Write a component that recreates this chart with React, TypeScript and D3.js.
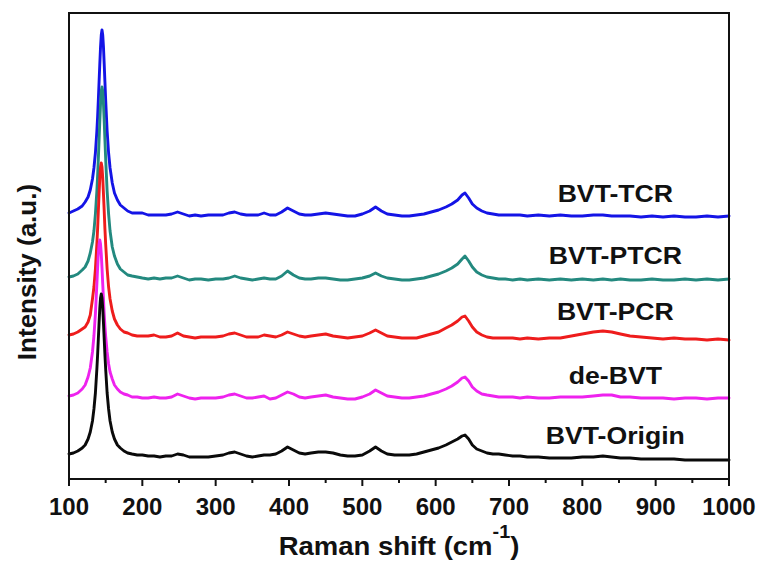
import React from "react";
import * as d3 from "d3";

// Raman shift axis (cm-1), shared by all five spectra
const ramanShift = [
  100, 106, 112, 118, 122, 126, 129, 132, 134, 136,
  138, 139, 140, 141, 142, 143, 144, 145, 146, 147,
  148, 149, 150, 152, 154, 156, 159, 162, 166, 170,
  175, 180, 186, 193, 200, 208, 216, 224, 232, 240,
  248, 256, 264, 272, 280, 290, 300, 310, 318, 326,
  334, 342, 350, 358, 366, 374, 382, 390, 398, 406,
  414, 422, 430, 440, 450, 460, 470, 480, 490, 500,
  510, 518, 526, 534, 544, 554, 564, 574, 584, 594,
  604, 614, 622, 630, 636, 640, 645, 650, 656, 663,
  670, 678, 686, 695, 705, 715, 725, 740, 755, 770,
  785, 800, 815, 828, 840, 852, 865, 880, 895, 910,
  925, 940, 955, 970, 985, 1000,
];

// Stacked intensities (a.u., offset per sample)
const bvtTCR = [
  266, 268, 270, 273, 277, 282, 289, 300, 311, 326,
  348, 362, 379, 397, 415, 432, 444, 449, 444, 432,
  415, 397, 379, 348, 326, 311, 296, 286, 279, 274,
  271, 268, 266, 266, 266, 264, 264, 264, 264, 265,
  267, 265, 263, 264, 263, 264, 264, 264, 266, 267,
  265, 264, 264, 264, 266, 264, 264, 267, 271, 268,
  265, 264, 264, 265, 266, 265, 264, 263, 263, 265,
  268, 272, 268, 265, 264, 263, 263, 264, 265, 267,
  269, 272, 275, 279, 284, 286, 281, 275, 271, 268,
  266, 265, 264, 264, 264, 264, 263, 264, 263, 264,
  263, 263, 264, 264, 263, 263, 263, 262, 263, 262,
  263, 262, 262, 263, 262, 263,
];

const bvtPTCR = [
  202, 203, 205, 209, 212, 218, 226, 237, 248, 265,
  288, 303, 320, 339, 358, 375, 388, 392, 388, 375,
  358, 339, 320, 288, 265, 248, 232, 223, 215, 210,
  207, 204, 203, 202, 201, 200, 201, 200, 201, 201,
  203, 201, 199, 200, 200, 199, 200, 200, 201, 203,
  201, 200, 199, 200, 201, 200, 200, 203, 208, 204,
  201, 200, 200, 201, 201, 200, 199, 199, 200, 201,
  203, 206, 203, 201, 200, 199, 199, 200, 201, 203,
  205, 208, 211, 215, 220, 223, 218, 212, 207, 204,
  202, 201, 200, 200, 199, 200, 199, 200, 199, 200,
  199, 200, 199, 200, 199, 200, 199, 199, 200, 199,
  199, 200, 199, 200, 199, 200,
];

const bvtPCR = [
  144, 145, 147, 150, 152, 157, 164, 180, 192, 210,
  235, 250, 268, 285, 301, 312, 316, 312, 301, 285,
  268, 250, 235, 210, 192, 180, 168, 160, 154, 150,
  147, 146, 144, 143, 143, 143, 144, 142, 142, 143,
  146, 143, 142, 141, 142, 142, 142, 143, 145, 146,
  144, 142, 142, 142, 144, 143, 142, 144, 147, 145,
  143, 142, 143, 144, 145, 143, 142, 141, 142, 143,
  146, 149, 146, 143, 142, 141, 141, 141, 143, 145,
  147, 151, 154, 158, 162, 163, 158, 152, 147, 144,
  142, 141, 141, 141, 141, 140, 141, 140, 141, 141,
  143, 145, 147, 148, 147, 145, 143, 142, 141, 140,
  141, 140, 140, 139, 140, 139,
];

const deBVT = [
  83, 84, 86, 90, 94, 102, 111, 127, 143, 165,
  195, 211, 225, 235, 239, 235, 225, 211, 195, 180,
  165, 153, 143, 127, 115, 107, 100, 94, 90, 87,
  85, 84, 82, 82, 81, 81, 82, 81, 81, 82,
  85, 83, 81, 80, 81, 81, 81, 82, 84, 85,
  83, 81, 81, 82, 83, 80, 81, 84, 87, 85,
  82, 81, 82, 83, 84, 82, 81, 80, 80, 82,
  85, 89, 86, 83, 82, 81, 81, 82, 83, 85,
  87, 90, 93, 97, 101, 102, 98, 92, 88, 85,
  84, 83, 82, 82, 82, 81, 82, 81, 81, 82,
  82, 82, 83, 84, 84, 82, 82, 81, 81, 81,
  80, 81, 81, 80, 81, 81,
];

const bvtOrigin = [
  25, 26, 28, 31, 34, 40, 47, 58, 70, 86,
  110, 124, 140, 156, 171, 181, 185, 181, 171, 156,
  140, 124, 110, 86, 70, 58, 47, 40, 34, 31,
  28, 26, 25, 24, 24, 23, 23, 22, 23, 23,
  25, 24, 22, 22, 22, 22, 23, 24, 26, 27,
  25, 23, 22, 23, 24, 24, 25, 28, 32, 29,
  26, 25, 26, 27, 27, 26, 24, 23, 23, 24,
  28, 32, 28, 25, 24, 24, 24, 25, 27, 29,
  31, 34, 37, 40, 43, 44, 40, 34, 30, 28,
  26, 25, 25, 24, 23, 23, 22, 22, 21, 21,
  21, 22, 22, 23, 22, 21, 21, 20, 20, 20,
  20, 19, 19, 19, 19, 19,
];

const sampleNames = ["BVT-TCR", "BVT-PTCR", "BVT-PCR", "de-BVT", "BVT-Origin"];
const xTicks = [100, 200, 300, 400, 500, 600, 700, 800, 900, 1000];
const xMinorTicks = [150, 250, 350, 450, 550, 650, 750, 850, 950];

const spectra = [bvtTCR, bvtPTCR, bvtPCR, deBVT, bvtOrigin];
const colors = ["#1414e6", "#23897f", "#ee1c1c", "#ee22ee", "#0a0a0a"];
const labelBaselines = [202, 264, 320, 384, 444];

const FONT = "'Liberation Sans', Arial, Helvetica, sans-serif";

export default function App() {
  const width = 766;
  const height = 563;
  const left = 69;
  const right = 729;
  const top = 13;
  const bottom = 479;

  const x = d3.scaleLinear().domain([100, 1000]).range([left, right]);
  const y = d3.scaleLinear().domain([0, 466]).range([bottom, top]);

  const line = d3
    .line<[number, number]>()
    .x((d) => x(d[0]))
    .y((d) => y(d[1]))
    .curve(d3.curveLinear);

  const labelX = x(845);

  return (
    <svg
      width={width}
      height={height}
      style={{ position: "absolute", left: 0, top: 0, background: "#fff" }}
      fontFamily={FONT}
    >
      <rect x={0} y={0} width={width} height={height} fill="#fff" />

      {spectra.map((vals, i) => (
        <path
          key={sampleNames[i]}
          d={line(ramanShift.map((s, j) => [s, vals[j]] as [number, number])) || ""}
          fill="none"
          stroke={colors[i]}
          strokeWidth={2.9}
          strokeLinejoin="round"
          strokeLinecap="round"
        />
      ))}

      <rect
        x={left}
        y={top}
        width={right - left}
        height={bottom - top}
        fill="none"
        stroke="#111"
        strokeWidth={2}
      />

      {xTicks.map((t) => (
        <g key={"t" + t}>
          <line x1={x(t)} x2={x(t)} y1={bottom} y2={bottom + 7} stroke="#111" strokeWidth={2} />
          <text
            x={x(t)}
            y={515}
            textAnchor="middle"
            fontSize={24}
            fontWeight="bold"
            fill="#111"
          >
            {t}
          </text>
        </g>
      ))}
      {xMinorTicks.map((t) => (
        <line key={"m" + t} x1={x(t)} x2={x(t)} y1={bottom} y2={bottom + 4} stroke="#111" strokeWidth={2} />
      ))}

      {sampleNames.map((name, i) => (
        <g key={"l" + name} transform={`translate(${labelX},${labelBaselines[i]}) scale(1.11,1)`}>
          <text x={0} y={0} textAnchor="middle" fontSize={24} fontWeight="bold" fill="#111">
            {name}
          </text>
        </g>
      ))}

      <g transform={`translate(${(left + right) / 2},555) scale(1.1,1)`}>
        <text x={0} y={0} textAnchor="middle" fontSize={25} fontWeight="bold" fill="#111">
          Raman shift (cm
          <tspan fontSize={18} dy={-17}>-1</tspan>
          <tspan dy={17}>)</tspan>
        </text>
      </g>

      <text
        transform={`translate(36,272) rotate(-90)`}
        textAnchor="middle"
        fontSize={26}
        fontWeight="bold"
        fill="#111"
      >
        Intensity (a.u.)
      </text>
    </svg>
  );
}
